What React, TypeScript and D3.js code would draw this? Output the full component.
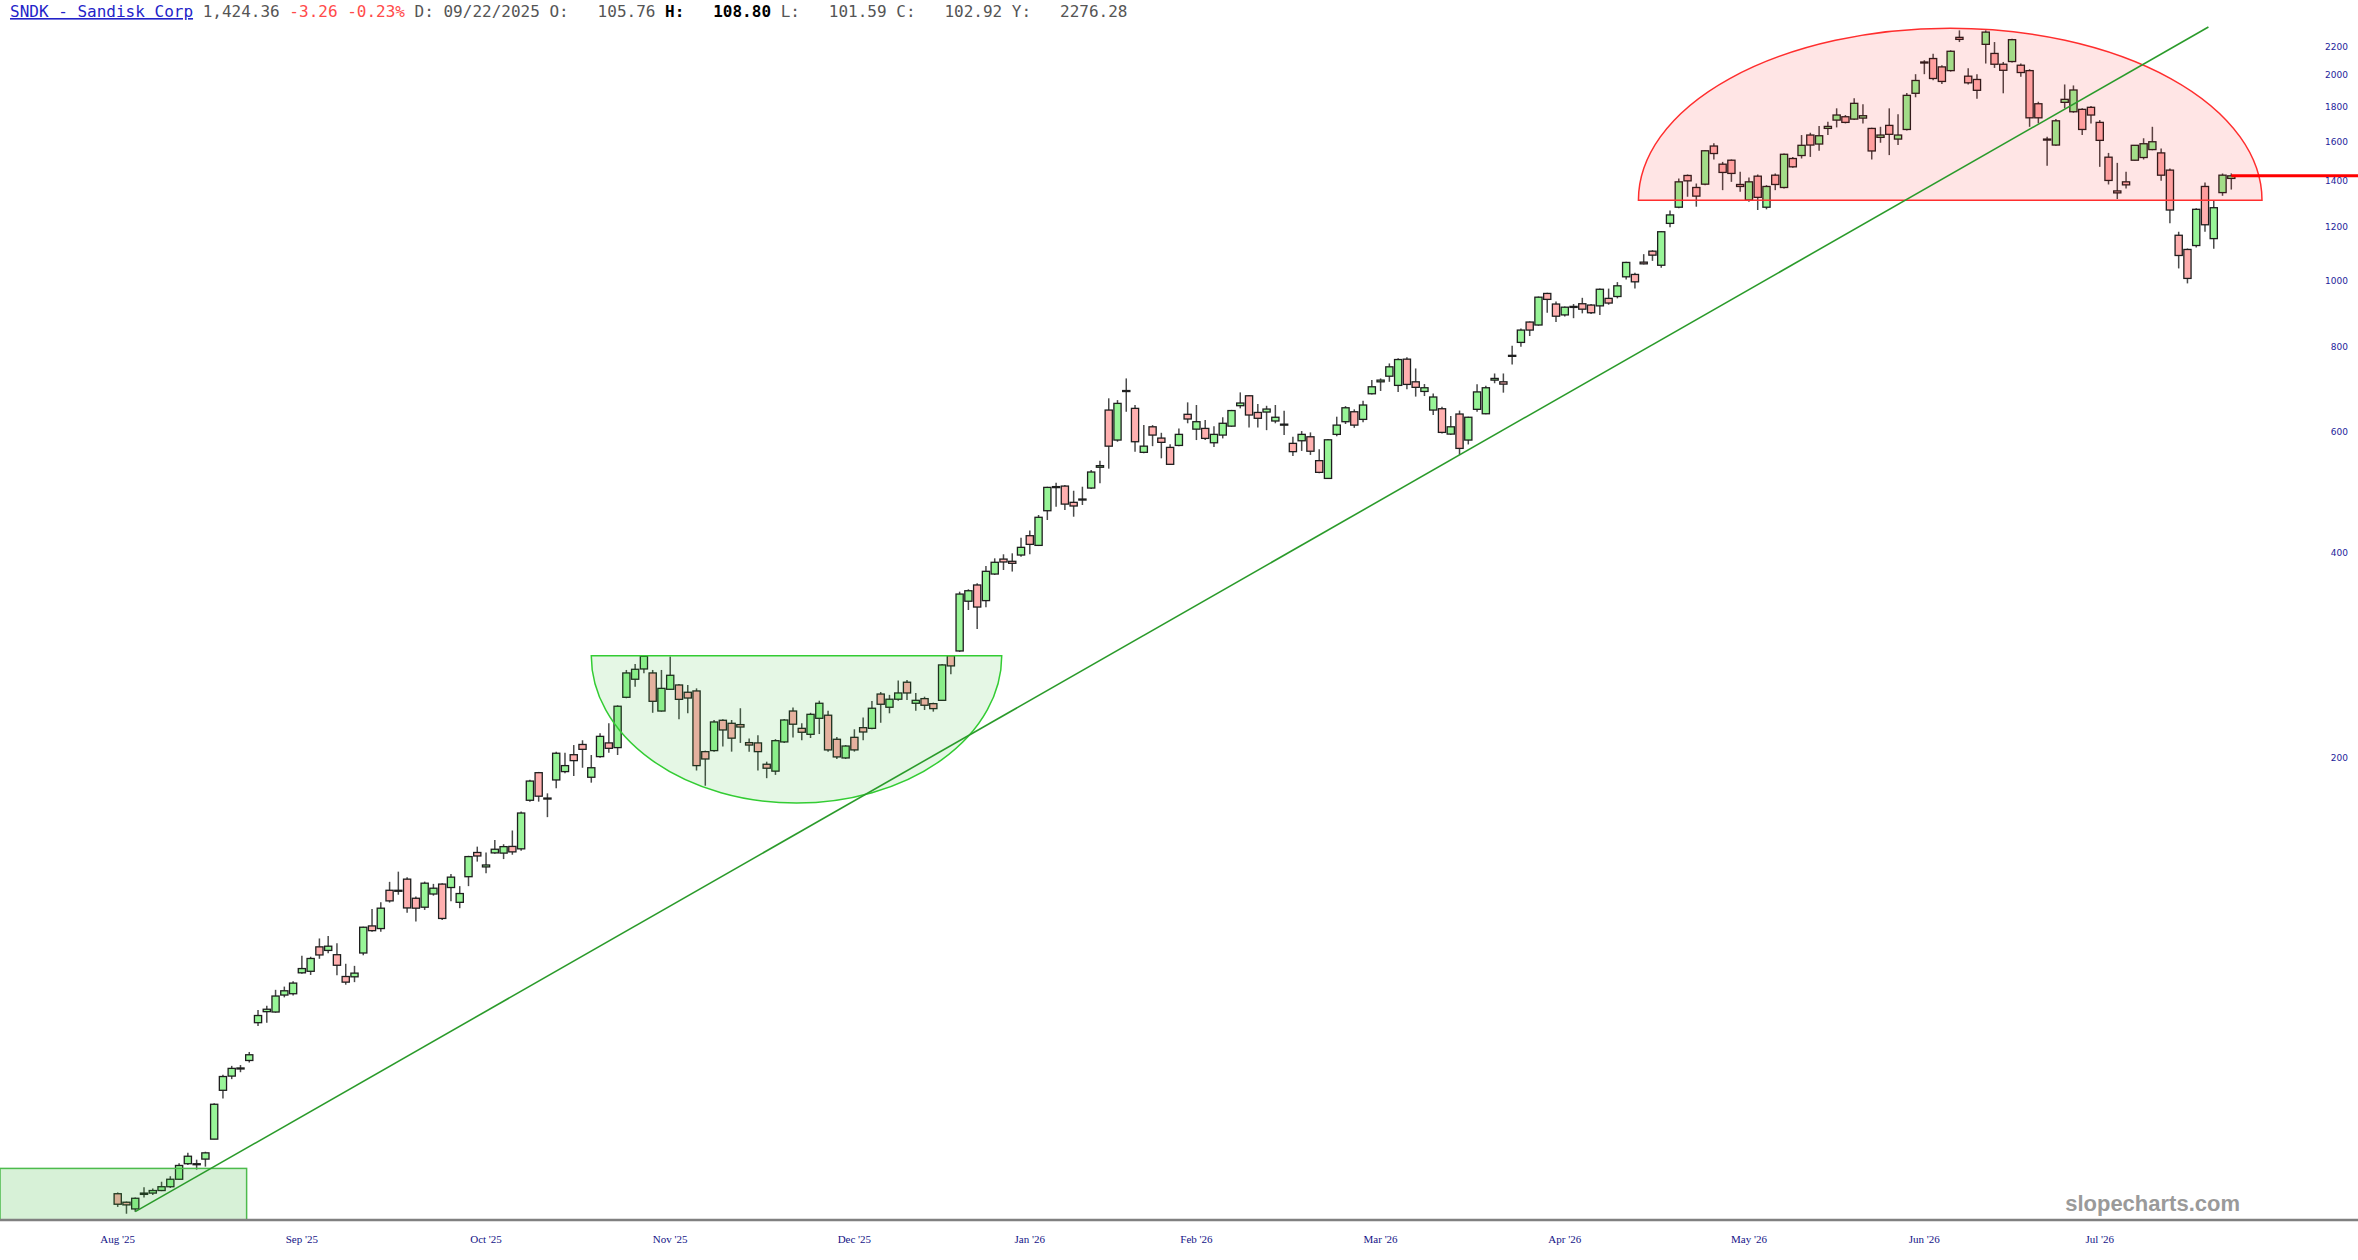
import React, { useEffect, useRef } from 'react';
import * as d3 from 'd3';

// daily bars (index 0 = first bar)
const OPEN = [
  46.0, 44.7, 43.7, 45.9, 46.1, 46.5, 47.1, 48.3, 50.9, 50.8,
  51.7, 55.3, 65.2, 68.4, 70.2, 72.1, 81.9, 85.0, 84.9, 89.9,
  90.3, 96.9, 97.4, 105.76, 104.5, 103.0, 95.7, 95.6, 103.6, 113.5,
  112.5, 128.0, 127.8, 132.9, 124.6, 120.9, 126.4, 130.7, 129.2, 122.9,
  134.0, 145.4, 138.5, 145.2, 145.1, 148.4, 147.2, 173.4, 190.3, 174.5,
  185.7, 191.0, 202.2, 209.3, 187.4, 200.9, 210.4, 207.1, 245.4, 260.8,
  270.0, 266.4, 234.3, 252.1, 255.8, 249.6, 250.7, 204.3, 205.0, 227.1,
  224.8, 223.8, 210.6, 210.4, 195.8, 191.3, 211.1, 234.3, 221.0, 216.6,
  228.6, 231.0, 213.0, 200.0, 214.4, 221.5, 221.0, 248.1, 237.3, 243.8,
  258.2, 240.5, 244.3, 240.2, 242.9, 282.4, 286.9, 339.3, 358.4, 340.0,
  371.9, 391.1, 388.2, 396.5, 423.2, 409.6, 460.4, 499.0, 500.3, 473.6,
  478.5, 497.0, 533.1, 646.5, 584.3, 689.5, 650.2, 560.6, 611.0, 588.2,
  570.0, 573.8, 637.3, 606.2, 607.7, 579.0, 594.2, 612.4, 656.1, 678.4,
  641.3, 642.2, 623.1, 616.0, 577.8, 582.9, 590.8, 545.1, 513.4, 595.6,
  621.6, 642.8, 626.5, 683.0, 711.1, 724.7, 702.6, 767.6, 711.1, 688.4,
  646.5, 649.4, 596.2, 637.9, 584.3, 648.1, 638.5, 715.2, 711.1, 776.5,
  812.2, 869.9, 861.3, 958.0, 924.4, 891.1, 916.0, 925.3, 921.2, 918.7,
  942.2, 948.2, 1013.3, 1021.4, 1064.7, 1104.8, 1053.6, 1213.4, 1281.4, 1426.1,
  1369.5, 1384.9, 1575.0, 1481.5, 1501.5, 1383.5, 1312.7, 1422.8, 1281.4, 1427.5,
  1369.5, 1510.1, 1525.4, 1634.5, 1585.6, 1671.5, 1719.0, 1738.5, 1724.8, 1730.7,
  1671.3, 1621.7, 1688.5, 1612.4, 1665.5, 1881.6, 2088.0, 2115.6, 2056.7, 2031.1,
  2272.2, 1993.4, 1971.3, 2219.4, 2152.2, 2075.3, 2094.3, 2068.4, 2031.1, 1816.4,
  1612.4, 1580.3, 1825.0, 1768.0, 1782.4, 1794.6, 1705.7, 1516.8, 1353.7, 1395.8,
  1501.5, 1515.2, 1556.3, 1538.9, 1452.1, 1165.7, 1111.2, 1126.1, 1374.2, 1152.6,
  1346.1, 1412.0,
];

const HIGH = [
  46.2, 44.8, 45.4, 47.0, 46.8, 47.9, 48.8, 51.0, 52.8, 51.6,
  53.0, 62.4, 68.7, 70.8, 71.0, 74.2, 85.5, 86.7, 91.5, 92.5,
  94.2, 102.6, 102.3, 108.8, 109.7, 107.1, 99.9, 99.2, 113.2, 120.2,
  122.9, 131.7, 136.3, 133.8, 125.3, 131.8, 130.8, 131.1, 135.2, 129.8,
  143.8, 148.3, 145.4, 151.7, 149.5, 156.6, 166.9, 185.9, 190.8, 177.5,
  204.3, 203.6, 208.9, 212.3, 202.0, 217.4, 224.8, 238.9, 269.1, 274.6,
  283.0, 269.1, 269.1, 281.6, 256.7, 255.8, 252.9, 205.0, 227.3, 227.8,
  227.3, 236.5, 213.5, 215.9, 197.5, 213.1, 228.1, 237.0, 224.8, 232.9,
  242.6, 234.6, 214.6, 208.9, 220.3, 229.3, 242.3, 249.8, 247.4, 259.6,
  260.2, 249.0, 245.9, 241.0, 274.6, 283.0, 350.4, 353.2, 360.5, 382.1,
  392.1, 397.5, 398.8, 420.3, 430.7, 453.8, 499.2, 505.9, 502.0, 492.5,
  499.2, 528.2, 545.0, 672.6, 668.6, 719.3, 657.6, 614.5, 614.5, 598.8,
  576.3, 607.7, 663.5, 657.6, 625.2, 612.4, 631.0, 646.9, 686.2, 680.0,
  660.0, 655.9, 657.6, 644.8, 590.8, 602.3, 599.6, 566.5, 586.2, 632.2,
  655.2, 648.1, 667.1, 715.2, 719.3, 756.6, 770.2, 772.7, 743.9, 705.8,
  683.4, 653.7, 633.8, 645.4, 632.2, 705.1, 701.7, 731.4, 731.4, 803.0,
  851.5, 871.7, 948.2, 960.0, 932.5, 916.5, 924.4, 944.0, 924.4, 973.8,
  973.8, 995.3, 1065.8, 1026.9, 1093.7, 1108.5, 1182.3, 1266.8, 1411.8, 1430.9,
  1388.0, 1552.7, 1589.3, 1493.0, 1505.1, 1443.7, 1416.6, 1430.9, 1380.3, 1435.7,
  1535.4, 1518.3, 1634.5, 1647.2, 1684.6, 1709.2, 1788.5, 1748.6, 1849.8, 1812.8,
  1675.3, 1680.6, 1788.5, 1752.6, 1883.5, 2006.8, 2103.5, 2150.7, 2068.4, 2175.2,
  2326.4, 2046.6, 2006.8, 2326.4, 2236.6, 2091.4, 2262.1, 2080.3, 2040.7, 1828.7,
  1625.0, 1724.8, 1938.5, 1932.1, 1788.5, 1802.4, 1719.0, 1538.9, 1488.1, 1443.7,
  1580.3, 1616.8, 1680.6, 1561.5, 1460.4, 1179.6, 1114.9, 1276.6, 1392.9, 1308.3,
  1435.7, 1436.0,
];

const LOW = [
  44.0, 43.0, 43.3, 45.4, 45.8, 46.4, 46.9, 48.2, 50.7, 49.9,
  50.4, 55.3, 63.4, 67.7, 69.3, 71.6, 81.0, 81.9, 84.7, 89.2,
  89.8, 96.6, 96.2, 101.59, 103.5, 96.1, 93.1, 93.9, 102.8, 111.3,
  111.3, 122.8, 126.1, 118.7, 115.2, 119.8, 125.7, 115.8, 123.4, 120.5,
  129.8, 141.0, 135.6, 144.8, 142.2, 144.3, 146.2, 172.6, 172.6, 163.8,
  180.5, 190.0, 188.2, 193.5, 184.0, 200.2, 203.6, 202.0, 244.6, 254.3,
  266.1, 232.9, 233.8, 251.5, 227.8, 232.5, 191.7, 182.1, 204.3, 207.8,
  204.3, 210.4, 204.3, 191.7, 186.8, 188.9, 210.4, 214.2, 212.3, 213.9,
  216.8, 204.3, 199.3, 199.3, 204.3, 212.3, 220.3, 225.2, 232.5, 242.6,
  243.2, 234.6, 235.1, 233.8, 242.6, 265.2, 286.0, 329.4, 308.9, 332.4,
  370.7, 377.0, 375.0, 394.2, 397.5, 408.7, 446.2, 466.6, 461.5, 451.2,
  469.4, 495.3, 505.0, 530.6, 581.0, 642.8, 561.9, 558.7, 572.4, 549.4,
  537.2, 572.4, 618.3, 584.3, 584.3, 571.0, 587.6, 611.0, 650.2, 609.6,
  609.6, 604.1, 618.3, 594.2, 553.9, 563.3, 555.7, 522.3, 512.7, 591.8,
  616.8, 608.9, 620.3, 681.6, 689.5, 711.1, 687.3, 693.7, 676.5, 677.8,
  635.8, 597.6, 594.2, 555.7, 575.7, 642.8, 637.3, 707.7, 685.6, 754.0,
  800.3, 829.8, 859.3, 897.6, 869.9, 886.0, 881.3, 895.8, 893.6, 891.1,
  922.3, 942.2, 1004.4, 974.3, 1056.5, 1069.3, 1044.4, 1197.2, 1277.1, 1327.4,
  1283.6, 1380.3, 1505.1, 1357.2, 1395.8, 1349.5, 1305.3, 1269.3, 1272.3, 1357.2,
  1364.9, 1463.4, 1510.1, 1518.3, 1549.9, 1634.5, 1677.1, 1700.0, 1719.0, 1700.0,
  1505.1, 1592.5, 1527.5, 1580.3, 1659.9, 1856.5, 2006.8, 1966.8, 1941.2, 2024.4,
  2236.6, 1938.5, 1847.9, 2080.3, 2049.7, 1881.6, 2087.2, 1988.8, 1680.6, 1700.0,
  1473.3, 1576.5, 1788.5, 1762.1, 1634.5, 1700.0, 1468.3, 1383.5, 1317.2, 1364.9,
  1500.0, 1505.1, 1552.7, 1400.5, 1213.4, 1042.3, 991.0, 1118.6, 1179.6, 1113.4,
  1331.6, 1360.0,
];

const CLOSE = [
  44.4, 44.3, 45.3, 46.1, 46.5, 47.1, 48.3, 50.6, 52.2, 50.9,
  52.8, 62.2, 68.3, 70.2, 70.3, 73.5, 83.9, 85.7, 89.6, 91.2,
  93.6, 98.3, 101.7, 102.92, 106.0, 99.4, 93.9, 96.8, 113.0, 111.7,
  120.5, 123.5, 128.0, 120.6, 120.5, 131.1, 128.9, 116.4, 133.8, 126.6,
  143.4, 143.7, 139.4, 147.0, 148.3, 145.7, 166.1, 185.0, 175.8, 174.7,
  203.2, 194.9, 198.2, 205.9, 193.5, 215.1, 206.6, 238.1, 266.4, 269.7,
  281.8, 242.1, 252.9, 264.3, 243.7, 244.8, 194.9, 199.3, 225.8, 219.8,
  213.8, 222.0, 208.9, 204.3, 193.2, 212.0, 227.3, 224.1, 218.1, 231.7,
  240.5, 205.5, 200.7, 208.2, 205.5, 218.3, 236.5, 239.7, 243.8, 249.0,
  249.0, 242.9, 238.9, 236.2, 273.7, 272.8, 347.6, 351.5, 332.7, 375.3,
  386.9, 387.3, 385.6, 406.9, 411.0, 450.3, 498.1, 499.4, 470.8, 467.8,
  478.9, 524.6, 536.0, 572.4, 661.2, 690.5, 581.0, 572.4, 594.2, 579.8,
  538.4, 595.6, 627.3, 621.6, 587.6, 595.6, 618.3, 645.4, 662.0, 635.8,
  628.8, 648.7, 631.0, 616.5, 561.9, 595.6, 562.7, 524.0, 584.8, 614.5,
  651.5, 614.5, 657.6, 699.3, 715.2, 748.0, 766.6, 704.9, 698.0, 697.0,
  675.6, 599.6, 611.0, 568.1, 631.0, 687.3, 697.0, 719.3, 705.6, 777.5,
  846.7, 846.7, 946.0, 939.0, 887.2, 914.6, 917.0, 908.5, 897.6, 971.6,
  927.5, 983.0, 1063.6, 996.3, 1058.6, 1090.1, 1179.6, 1248.5, 1395.8, 1400.5,
  1330.2, 1550.0, 1535.7, 1440.8, 1436.0, 1374.2, 1395.8, 1324.7, 1374.2, 1383.5,
  1531.8, 1468.3, 1578.8, 1580.3, 1630.6, 1682.8, 1748.6, 1705.7, 1818.9, 1744.5,
  1549.1, 1634.5, 1638.4, 1634.5, 1868.5, 1964.6, 2091.0, 1977.9, 1958.3, 2168.0,
  2256.8, 1949.2, 1900.6, 2312.8, 2075.3, 2033.4, 2254.5, 2018.1, 1732.2, 1732.2,
  1607.0, 1714.8, 1843.6, 1902.6, 1665.5, 1748.6, 1605.4, 1402.4, 1344.8, 1381.7,
  1578.8, 1587.2, 1597.9, 1427.5, 1269.3, 1088.9, 1007.8, 1272.3, 1207.7, 1279.2,
  1427.6, 1424.36,
];

const MONTH_LABELS = ["Aug '25", "Sep '25", "Oct '25", "Nov '25", "Dec '25", "Jan '26",
  "Feb '26", "Mar '26", "Apr '26", "May '26", "Jun '26", "Jul '26"];
const MONTH_INDEX = [0, 21, 42, 63, 84, 104, 123, 144, 165, 186, 206, 226];
const PRICE_TICKS = [200, 400, 600, 800, 1000, 1200, 1400, 1600, 1800, 2000, 2200];

// drawings, in bar index / price units
const BASE_BOX = [14.7, 50.1]; // right edge, top price
const CUP = [54.0, 100.8, 282.4, 171.7]; // start, end, rim price, bottom price
const DOME = [173.4, 244.5, 1312, 2344]; // start, end, base price, top price
const TREND_BARS = [2, 153]; // line touches the lows of these bars

const HEADER_PARTS = [
  { t: 'SNDK - Sandisk Corp', fill: '#2323c8', link: true },
  { t: ' 1,424.36 ', fill: '#555' },
  { t: '-3.26 -0.23%', fill: '#ff4a4a' },
  { t: ' D: 09/22/2025 O:   105.76 ', fill: '#555' },
  { t: 'H:   108.80', fill: '#000', bold: true },
  { t: ' L:   101.59 C:   102.92 Y:   2276.28', fill: '#555' },
];

const App: React.FC = () => {
  const svgRef = useRef<SVGSVGElement>(null);

  useEffect(() => {
    if (!svgRef.current) return;
    const svg = d3.select(svgRef.current);
    svg.selectAll('*').remove();

    const width = 2358;
    const height = 1260;
    const axisY = 1220;
    const n = OPEN.length;

    const x = d3.scaleLinear().domain([0, n - 1]).range([117.7, 2231.3]);
    const y = d3.scaleLog().domain([42.1, 2353]).range([axisY, 27]);

    svg.append('rect').attr('width', width).attr('height', height).attr('fill', '#fff');

    // candles
    const bw = 7.2;
    const candles = svg.append('g');
    d3.range(n).forEach(i => {
      const o = OPEN[i], c = CLOSE[i];
      const up = c >= o;
      const cx = x(i);
      candles.append('line')
        .attr('x1', cx).attr('x2', cx)
        .attr('y1', y(HIGH[i])).attr('y2', y(LOW[i]))
        .attr('stroke', '#4a4a4a').attr('stroke-width', 1.5);
      const top = y(Math.max(o, c));
      const h = Math.max(1, Math.abs(y(o) - y(c)));
      candles.append('rect')
        .attr('x', cx - bw / 2).attr('y', top)
        .attr('width', bw).attr('height', h)
        .attr('fill', up ? '#98f598' : '#ffb0b0')
        .attr('stroke', '#1e1e1e').attr('stroke-width', 1.3);
    });

    // green base box
    svg.append('rect')
      .attr('x', 0).attr('y', y(BASE_BOX[1]))
      .attr('width', x(BASE_BOX[0])).attr('height', axisY - y(BASE_BOX[1]))
      .attr('fill', 'rgba(40,180,40,0.19)')
      .attr('stroke', '#4cbb4c').attr('stroke-width', 1.5);

    // cup (lower half ellipse)
    const cupL = x(CUP[0]), cupR = x(CUP[1]);
    const cupRim = y(CUP[2]), cupBot = y(CUP[3]);
    svg.append('path')
      .attr('d', `M${cupL},${cupRim} A${(cupR - cupL) / 2},${cupBot - cupRim} 0 0 0 ${cupR},${cupRim} Z`)
      .attr('fill', 'rgba(40,190,40,0.12)')
      .attr('stroke', '#33cc33').attr('stroke-width', 1.5);

    // dome (upper half ellipse)
    const domeL = x(DOME[0]), domeR = x(DOME[1]);
    const domeBase = y(DOME[2]), domeTop = y(DOME[3]);
    svg.append('path')
      .attr('d', `M${domeL},${domeBase} A${(domeR - domeL) / 2},${domeBase - domeTop} 0 0 1 ${domeR},${domeBase} Z`)
      .attr('fill', 'rgba(255,0,0,0.1)')
      .attr('stroke', '#ff2e2e').attr('stroke-width', 1.5);

    // trend line through two lows, run up to the top of the plot
    const [a, b] = TREND_BARS;
    const x0 = x(a), y0 = y(LOW[a]);
    const x1 = x(b), y1 = y(LOW[b]);
    const plotTop = y.range()[1];
    const xEnd = x0 + (plotTop - y0) * (x1 - x0) / (y1 - y0);
    svg.append('line')
      .attr('x1', x0).attr('y1', y0).attr('x2', xEnd).attr('y2', plotTop)
      .attr('stroke', '#2b9b2b').attr('stroke-width', 1.6);

    // last price line
    const last = n - 1;
    svg.append('line')
      .attr('x1', x(last)).attr('x2', width)
      .attr('y1', y(CLOSE[last])).attr('y2', y(CLOSE[last]))
      .attr('stroke', '#ff0000').attr('stroke-width', 3);

    // bottom axis
    svg.append('line')
      .attr('x1', 0).attr('x2', width).attr('y1', axisY).attr('y2', axisY)
      .attr('stroke', '#808080').attr('stroke-width', 2.5);

    svg.append('g').selectAll('text')
      .data(MONTH_LABELS)
      .enter().append('text')
      .attr('x', (_, k) => x(MONTH_INDEX[k]))
      .attr('y', 1243)
      .attr('text-anchor', 'middle')
      .style('font-family', '"Liberation Serif", serif')
      .style('font-size', '11px')
      .attr('fill', '#141487')
      .text(d => d);

    svg.append('g').selectAll('text')
      .data(PRICE_TICKS)
      .enter().append('text')
      .attr('x', 2348)
      .attr('y', d => y(d))
      .attr('dy', '0.35em')
      .attr('text-anchor', 'end')
      .style('font-family', '"DejaVu Sans", Verdana, sans-serif')
      .style('font-size', '9px')
      .attr('fill', '#24249a')
      .text(d => String(d));

    // watermark
    svg.append('text')
      .attr('x', 2240).attr('y', 1211)
      .attr('text-anchor', 'end')
      .style('font-family', '"Liberation Sans", Arial, sans-serif')
      .style('font-size', '22px')
      .style('font-weight', 'bold')
      .attr('fill', '#9a9a9a')
      .text('slopecharts.com');

    // header
    const header = svg.append('text')
      .attr('x', 10).attr('y', 17)
      .style('font-family', '"DejaVu Sans Mono", monospace')
      .style('font-size', '16px')
      .style('white-space', 'pre');
    HEADER_PARTS.forEach(p => {
      const ts = header.append('tspan').attr('fill', p.fill).text(p.t);
      if (p.link) ts.style('text-decoration', 'underline');
      if (p.bold) ts.style('font-weight', 'bold');
    });
  }, []);

  return (
    <svg
      ref={svgRef}
      width={2358}
      height={1260}
      style={{ position: 'absolute', left: 0, top: 0, display: 'block' }}
    />
  );
};

export default App;
